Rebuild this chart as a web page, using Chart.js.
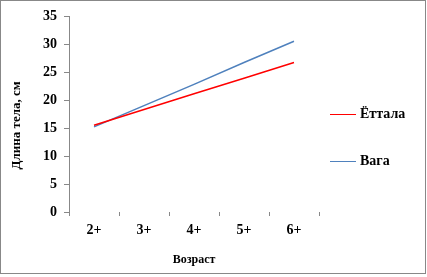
<!DOCTYPE html>
<html>
<head>
<meta charset="utf-8">
<script src="https://cdn.jsdelivr.net/npm/chart.js@4"></script>
<style>
  body { margin: 0; background: #fff; }
  #wrap { position: relative; width: 427px; height: 277px; }
  #frame { position: absolute; left: 0; top: 0; width: 426px; height: 274px; box-sizing: border-box; border: 1px solid #888; pointer-events: none; }
  #legend { position: absolute; left: 330px; top: 0; font: bold 14px "Liberation Serif", serif; color: #000; }
  #legend div { position: absolute; white-space: nowrap; }
  #legend span { display: inline-block; width: 26px; height: 0; border-top: 1.5px solid; vertical-align: middle; margin-right: 4px; }
</style>
</head>
<body>
<div id="wrap">
  <canvas id="chart" width="427" height="277"></canvas>
  <div id="legend"></div>
  <div id="frame"></div>
</div>
<script>
const labels = ['2+', '3+', '4+', '5+', '6+'];
const seriesNames = ['Ёттала', 'Вага'];
const ettala = [15.5, 18.3, 21.1, 23.9, 26.7];
const vaga = [15.2, 19.0, 22.8, 26.7, 30.5];
const colors = ['#ff0000', '#4f81bd'];

const font = { family: '"Liberation Serif", serif', weight: 'bold', size: 14 };

new Chart(document.getElementById('chart'), {
  type: 'line',
  data: {
    labels: labels,
    datasets: [
      { label: seriesNames[0], data: ettala, borderColor: colors[0], borderWidth: 1.5, pointRadius: 0 },
      { label: seriesNames[1], data: vaga, borderColor: colors[1], borderWidth: 1.5, pointRadius: 0 }
    ]
  },
  options: {
    responsive: false,
    animation: false,
    layout: { padding: { left: 0, top: 16, right: 108, bottom: 0 } },
    plugins: { legend: { display: false }, tooltip: { enabled: false } },
    scales: {
      x: {
        offset: true,
        grid: { drawOnChartArea: false, color: '#888', tickLength: 4, offset: true },
        border: { display: false },
        ticks: { color: '#000', font: font, padding: 6 },
        title: { display: true, text: 'Возраст', color: '#000', font: { family: font.family, weight: 'bold', size: 12 }, padding: { top: 6, bottom: 10 } },
        afterFit: s => { s.height = 65; }
      },
      y: {
        min: 0, max: 35,
        ticks: { stepSize: 5, color: '#000', font: font, padding: 7 },
        grid: { drawOnChartArea: false, color: '#888', tickLength: 5 },
        border: { color: '#888' },
        // trailing spaces push the rotated title a little lower, as in the original
        title: { display: true, text: 'Длина тела, см       ', color: '#000', font: { family: font.family, weight: 'bold', size: 13 }, padding: { bottom: 0, top: 9 } },
        afterFit: s => { s.width = 69; }
      }
    }
  }
});

// legend
const legend = document.getElementById('legend');
const legendY = [115, 162];
seriesNames.forEach((name, i) => {
  const item = document.createElement('div');
  item.style.top = (legendY[i] - 9) + 'px';
  item.innerHTML = `<span style="border-color:${colors[i]}"></span>${name}`;
  legend.appendChild(item);
});
</script>
</body>
</html>
